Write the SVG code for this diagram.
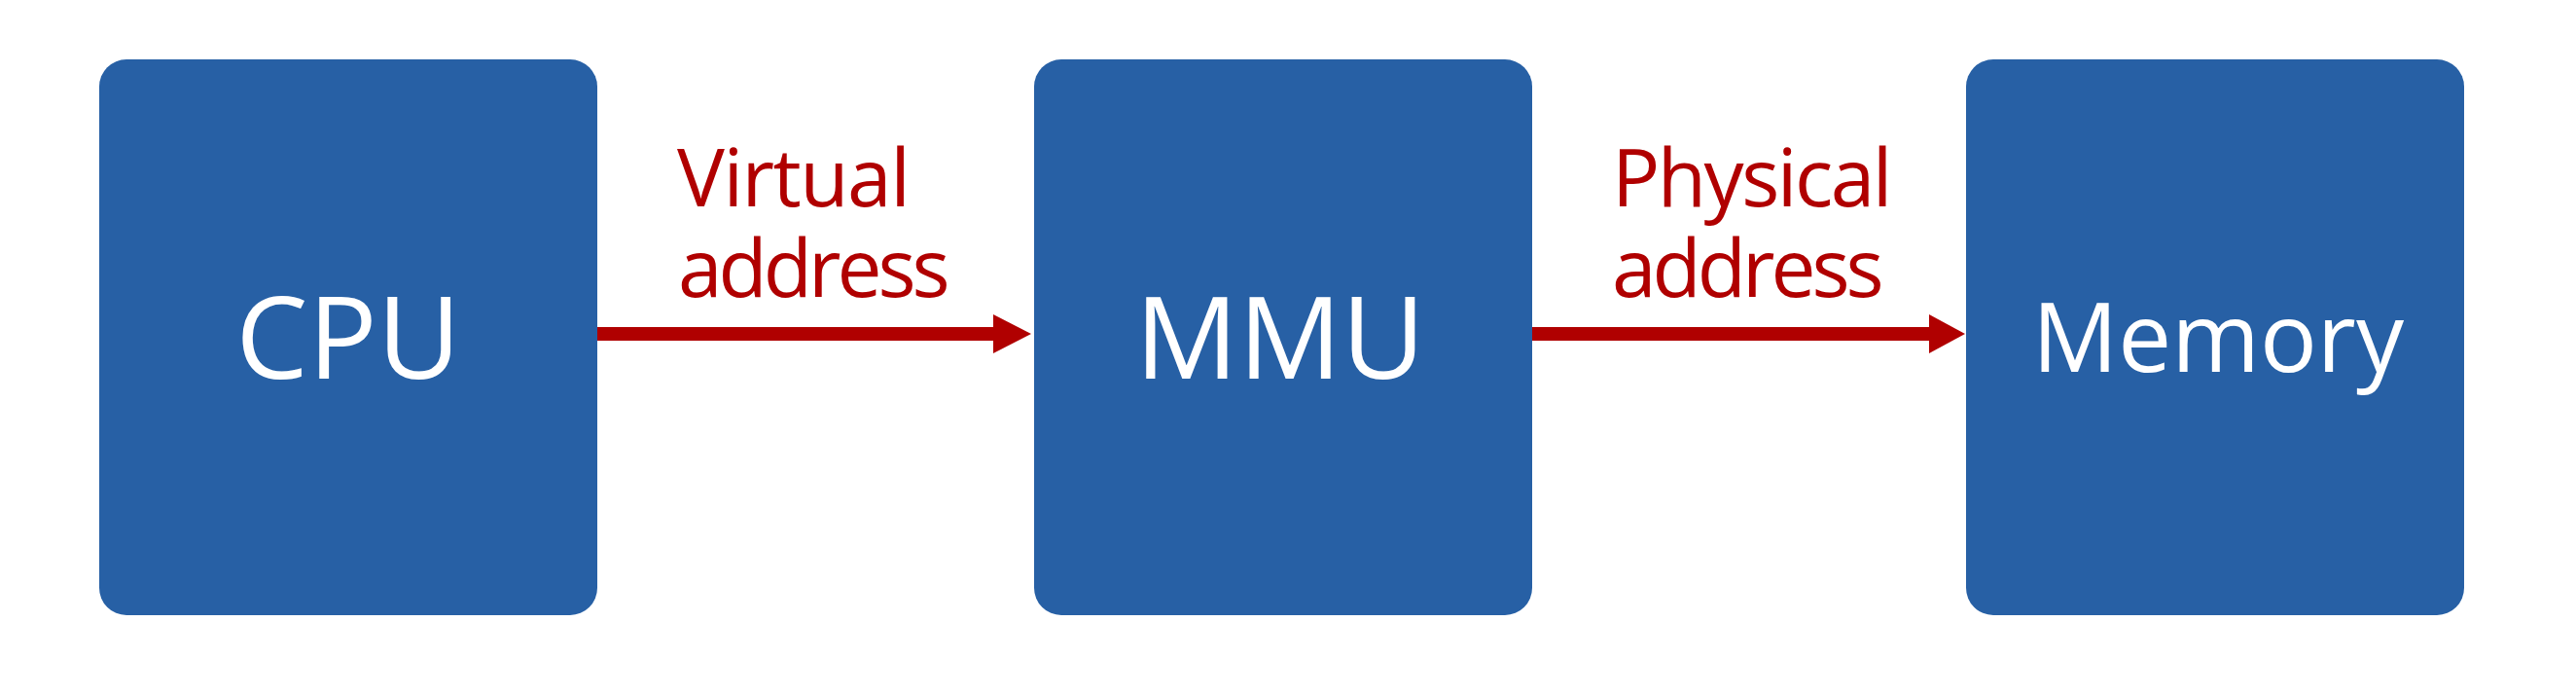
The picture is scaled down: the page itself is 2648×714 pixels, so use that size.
<svg xmlns="http://www.w3.org/2000/svg" width="2648" height="714" viewBox="0 0 2648 714">
<defs>
<style>
.box{fill:#2760A5;}
.nl{fill:#FFFFFF;font-family:"Open Sans","Noto Sans","DejaVu Sans",sans-serif;text-anchor:middle;}
.el{fill:#B00000;font-family:"Open Sans","Noto Sans","DejaVu Sans",sans-serif;font-size:82px;}
.conn{stroke:#B00000;stroke-width:14;fill:none;}
.head{fill:#B00000;}
</style>
</defs>
<rect width="2648" height="714" fill="#FFFFFF"/>
<g id="cpu">
<rect class="box" x="102" y="61" width="512" height="571" rx="28" ry="28"/>
<text class="nl" x="358" y="389" font-size="118">CPU</text>
</g>
<g id="mmu">
<rect class="box" x="1063" y="61" width="512" height="571" rx="28" ry="28"/>
<text class="nl" x="1316" y="389" font-size="118">MMU</text>
</g>
<g id="memory">
<rect class="box" x="2021" y="61" width="512" height="571" rx="28" ry="28"/>
<text class="nl" x="2280" y="382" font-size="98">Memory</text>
</g>
<g id="connectors">
<line class="conn" x1="614" y1="343" x2="1024" y2="343"/>
<polygon class="head" points="1021,323 1060,343 1021,363"/>
<line class="conn" x1="1575" y1="343" x2="1986" y2="343"/>
<polygon class="head" points="1983,323 2020,343 1983,363"/>
</g>
<g id="labels">
<text class="el"><tspan x="696" y="212" letter-spacing="-1.5">Virtual</tspan><tspan x="697" y="305" letter-spacing="-4">address</tspan></text>
<text class="el"><tspan x="1657" y="212" letter-spacing="-2.5">Physical</tspan><tspan x="1657" y="305" letter-spacing="-4">address</tspan></text>
</g>
</svg>
